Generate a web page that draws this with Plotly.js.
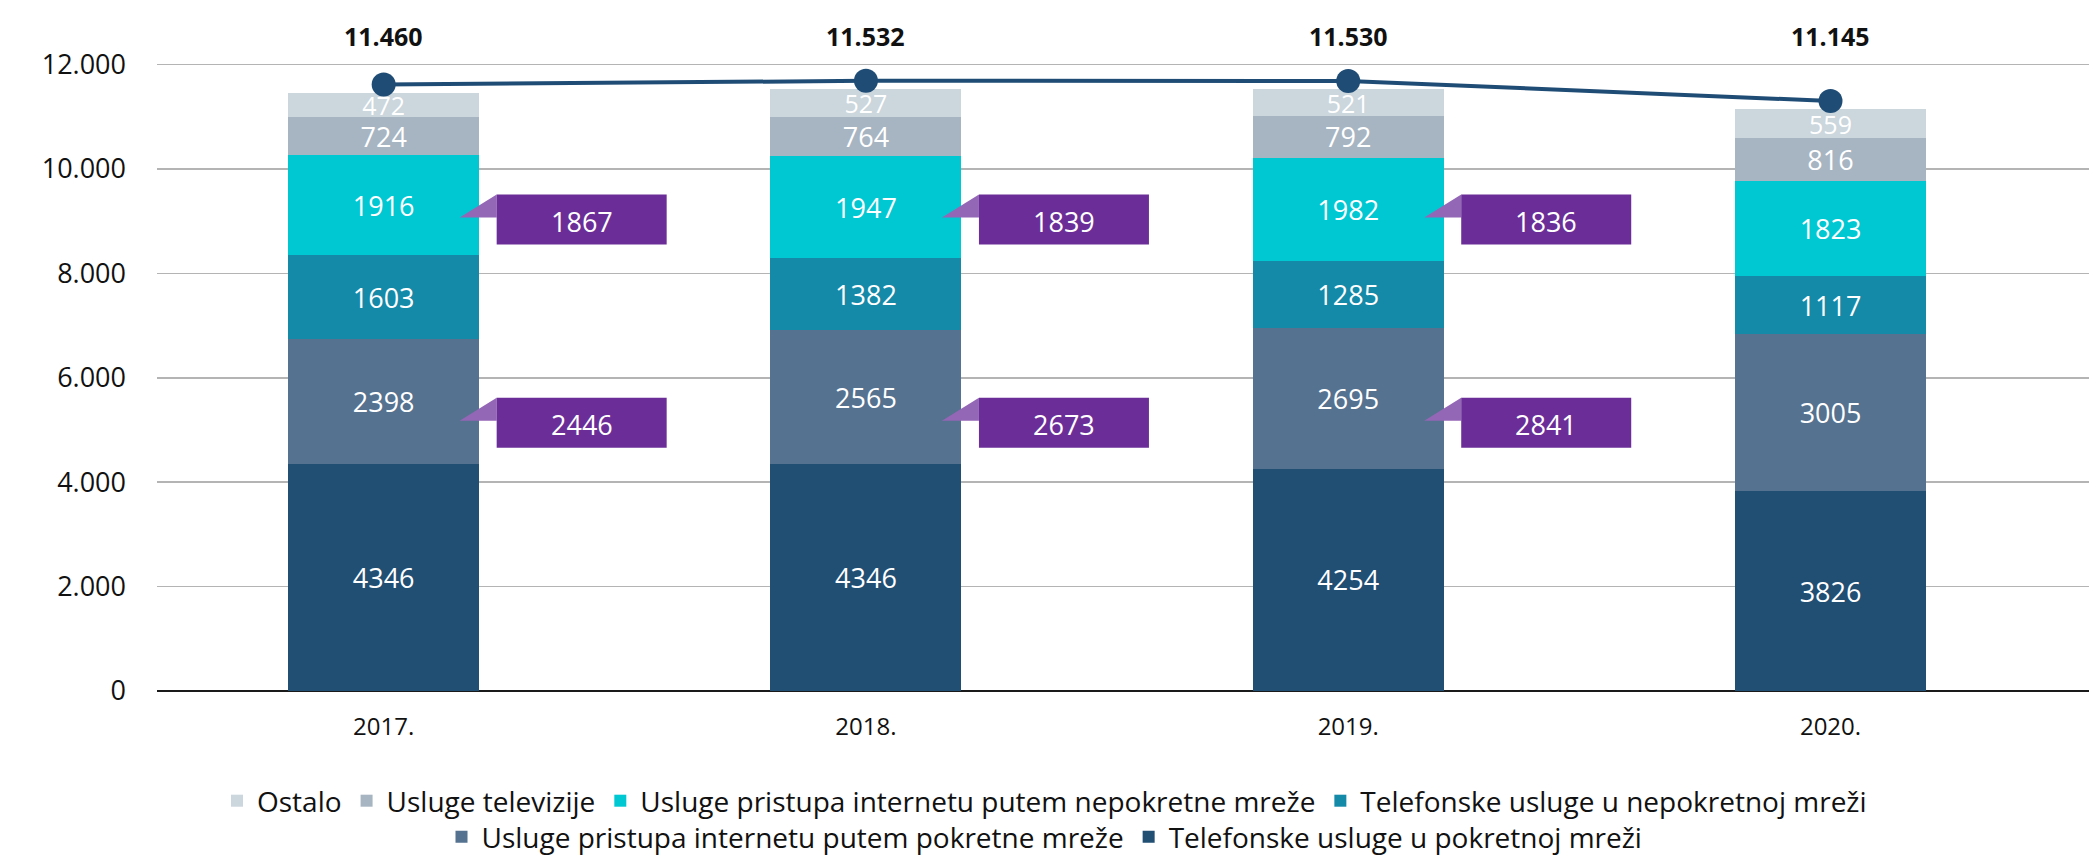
<!DOCTYPE html>
<html>
<head>
<meta charset="utf-8">
<script src="https://cdn.plot.ly/plotly-3.0.1.min.js"></script>
<style>
  html, body { margin: 0; padding: 0; background: #ffffff; }
  #chart { width: 2089px; height: 857px; }
</style>
</head>
<body>
<div id="chart"></div>
<script>
// ---- Data ----
const years = ['2017.', '2018.', '2019.', '2020.'];
const telPokretna = [4346, 4346, 4254, 3826];
const netPokretna = [2398, 2565, 2695, 3005];
const telNepokretna = [1603, 1382, 1285, 1117];
const netNepokretna = [1916, 1947, 1982, 1823];
const televizija = [724, 764, 792, 816];
const ostalo = [472, 527, 521, 559];
const totals = [11460, 11532, 11530, 11145];
const calloutYears = ['2017.', '2018.', '2019.'];
const calloutNetNepokretna = [1867, 1839, 1836];
const calloutNetPokretna = [2446, 2673, 2841];

const seriesNames = [
  'Telefonske usluge u pokretnoj mreži',
  'Usluge pristupa internetu putem pokretne mreže',
  'Telefonske usluge u nepokretnoj mreži',
  'Usluge pristupa internetu putem nepokretne mreže',
  'Usluge televizije',
  'Ostalo'
];
const seriesValues = [telPokretna, netPokretna, telNepokretna, netNepokretna, televizija, ostalo];
const seriesColors = ['#214E73', '#557290', '#1489A8', '#00C8D3', '#A7B5C2', '#CBD6DD'];
const seriesTextSize = [27, 27, 27, 27, 27, 25];
// first legend row (top 4 stacked series), second legend row (bottom 2)
const seriesLegend = ['legend2', 'legend2', 'legend', 'legend', 'legend', 'legend'];

const FONT = 'Open Sans, Roboto, sans-serif';

function fmtThousands(v) {
  return String(v).replace(/\B(?=(\d{3})+(?!\d))/g, '.');
}

const traces = seriesValues.map((vals, i) => ({
  type: 'bar',
  name: seriesNames[i],
  legend: seriesLegend[i],
  x: years,
  y: vals,
  marker: { color: seriesColors[i], line: { width: 0 } },
  text: vals.map(String),
  textposition: 'inside',
  insidetextanchor: 'middle',
  constraintext: 'none',
  textangle: 0,
  textfont: { family: FONT, size: seriesTextSize[i], color: '#ffffff' },
  hoverinfo: 'skip',
  width: 0.396
}));

traces.push({
  type: 'scatter',
  mode: 'lines+markers',
  x: years,
  y: totals,
  yaxis: 'y2',
  line: { color: '#1F4C75', width: 4 },
  marker: { color: '#1F4C75', size: 24 },
  showlegend: false,
  hoverinfo: 'skip',
  cliponaxis: false
});

const Y_MAX = 12470;
const LINE_OFFSET = 156;
const PLOT_TOP = 40, PLOT_BOTTOM = 691;
const TOTALS_Y = (PLOT_BOTTOM - 36) / (PLOT_BOTTOM - PLOT_TOP);

const annotations = [];
years.forEach((yr, i) => {
  annotations.push({
    x: i, y: TOTALS_Y, xref: 'x', yref: 'paper',
    yanchor: 'middle',
    text: '<b>' + fmtThousands(totals[i]) + '</b>',
    showarrow: false,
    font: { family: FONT, size: 25, color: '#111111' }
  });
});

const shapes = [];
const UPPER_ANCHOR = 9030;
const LOWER_ANCHOR = 5140;
function addCallout(idx, anchor, value) {
  shapes.push({
    type: 'path', xref: 'x', yref: 'y',
    xsizemode: 'pixel', ysizemode: 'pixel',
    xanchor: idx, yanchor: anchor,
    path: 'M76,2 L113,25 L113,2 Z',
    fillcolor: '#9466B6', line: { width: 0 }
  });
  shapes.push({
    type: 'rect', xref: 'x', yref: 'y',
    xsizemode: 'pixel', ysizemode: 'pixel',
    xanchor: idx, yanchor: anchor,
    x0: 113, x1: 283, y0: -25, y1: 25,
    fillcolor: '#6B2E98', line: { width: 0 }
  });
  annotations.push({
    x: idx, y: anchor, xref: 'x', yref: 'y',
    text: String(value), showarrow: false,
    xshift: 198, yshift: -2,
    font: { family: FONT, size: 27, color: '#ffffff' }
  });
}
calloutYears.forEach((yr, i) => {
  const idx = years.indexOf(yr);
  addCallout(idx, UPPER_ANCHOR, calloutNetNepokretna[i]);
  addCallout(idx, LOWER_ANCHOR, calloutNetPokretna[i]);
});

const legendCommon = {
  orientation: 'h',
  xref: 'container',
  yref: 'container',
  x: 0.5,
  xanchor: 'center',
  yanchor: 'middle',
  traceorder: 'reversed',
  font: { family: FONT, size: 28, color: '#111111' },
  itemwidth: 30,
  bgcolor: 'rgba(0,0,0,0)'
};

const layout = {
  width: 2089,
  height: 857,
  margin: { l: 157, r: 0, t: PLOT_TOP, b: 857 - PLOT_BOTTOM, pad: 0, autoexpand: false },
  paper_bgcolor: '#ffffff',
  plot_bgcolor: '#ffffff',
  barmode: 'stack',
  separators: ',.',
  font: { family: FONT, color: '#111111' },
  xaxis: {
    type: 'category',
    range: [-0.47, 3.536],
    showgrid: false,
    showline: false,
    ticks: '',
    tickfont: { family: FONT, size: 24, color: '#111111' },
    ticklabelstandoff: 19,
    fixedrange: true
  },
  yaxis: {
    range: [0, Y_MAX],
    tickvals: [0, 2000, 4000, 6000, 8000, 10000, 12000],
    tickformat: ',d',
    showgrid: true,
    gridcolor: '#B4B4B4',
    gridwidth: 1.5,
    zeroline: true,
    zerolinecolor: '#1a1a1a',
    zerolinewidth: 2,
    showline: false,
    ticks: '',
    ticklabelstandoff: 30,
    tickfont: { family: FONT, size: 27, color: '#111111' },
    fixedrange: true
  },
  yaxis2: {
    overlaying: 'y',
    range: [-LINE_OFFSET, Y_MAX - LINE_OFFSET],
    visible: false,
    showgrid: false,
    zeroline: false,
    fixedrange: true
  },
  showlegend: true,
  legend: Object.assign({}, legendCommon, { y: (857 - 801) / 857 }),
  legend2: Object.assign({}, legendCommon, { y: (857 - 837) / 857 }),
  annotations: annotations,
  shapes: shapes
};

Plotly.newPlot('chart', traces, layout, { displayModeBar: false, staticPlot: true });
</script>
</body>
</html>
